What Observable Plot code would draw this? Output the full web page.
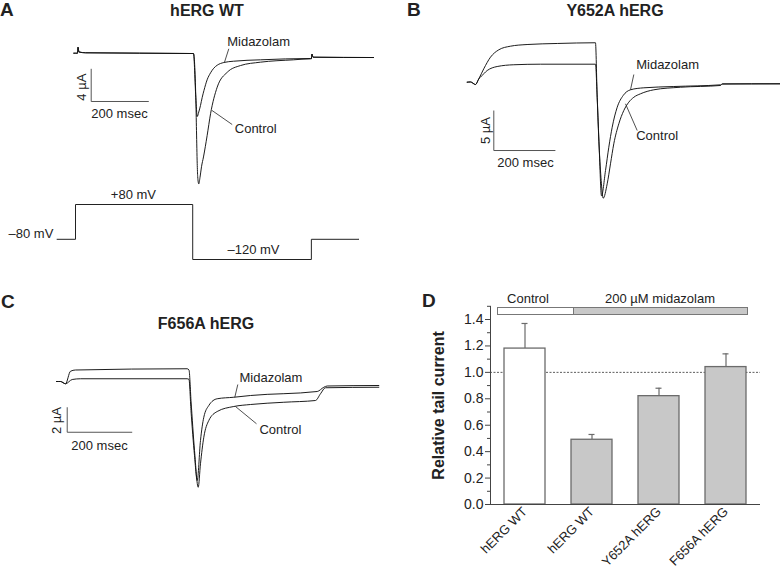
<!DOCTYPE html>
<html><head><meta charset="utf-8">
<script src="https://cdn.jsdelivr.net/npm/d3@7"></script>
<script src="https://cdn.jsdelivr.net/npm/@observablehq/plot@0.6"></script>
<style>
html,body{margin:0;padding:0;background:#fff;}
#fig{position:relative;width:780px;height:572px;overflow:hidden;font-family:"Liberation Sans",Arial,sans-serif;color:#222;background:#fff;}
#fig .panel{position:absolute;}
#fig .lbl{position:absolute;white-space:nowrap;}
#fig g[aria-label="y-axis label"] text{font-weight:bold;font-size:16px;}
</style></head><body><div id="fig"></div>
<script>
// ---------------- DATA (time in ms, current in µA) ----------------
// Panel A — hERG WT
const wtControl = [[-6,0],[7,0],[8.7,0.73],[12,0.15],[35,0.05],[409.7,-0.04],[417.7,-5.39],[420.1,-9.49],[422.6,-13.5],[424.3,-15.1],[428,-16],[432.3,-15.2],[437.5,-13.9],[444.4,-12.7],[457,-10.1],[469,-7.4],[492,-4.16],[527,-2.33],[573,-1.51],[642,-1.10],[757,-0.81],[816,-0.69],[819,-0.69],[821,-0.1],[825,-0.49],[1035,-0.53]];
const wtMidazolam = [[-6,0],[7,0],[8.7,0.73],[12,0.15],[35,0.05],[409.7,-0.04],[417.7,-5.39],[422.6,-7.75],[428,-7.2],[434,-6.4],[440,-5.4],[446,-4.57],[457,-3.26],[469,-2.4],[480,-1.84],[492,-1.47],[515,-1.14],[549,-0.98],[642,-0.81],[816,-0.65],[819,-0.65],[821,-0.1],[825,-0.49],[1035,-0.53]];
// Voltage protocol (ms, mV)
const protocolTime = [-64, 0, 407, 819, 984];
const protocolVoltage = [-80, 80, -120, -80, -80];
// Panel B — Y652A hERG
const y652Control = [[-20.5,0],[-9.7,0.03],[6.5,-0.29],[17.2,0.42],[33.4,1.68],[55.2,3.13],[82.1,4.05],[120,4.5],[174,4.71],[272,4.84],[396,4.93],[401.6,-1.88],[408,-8.1],[414.6,-12.3],[421.1,-14.5],[434.1,-12.7],[444.8,-10.2],[455.5,-7.7],[471.8,-5.2],[488,-3.54],[504.2,-2.5],[520.5,-1.88],[542.2,-1.45],[585.4,-0.95],[672,-0.63],[802,-0.41],[808.4,-0.22],[996.8,-0.2]];
const y652Midazolam = [[-20.5,0],[-9.7,0.03],[6.5,-0.29],[17.2,0.42],[22.7,0.63],[44.5,1.46],[76.9,1.96],[130.8,2.18],[217.5,2.25],[396,2.25],[401.6,-1.88],[408,-8.1],[415.6,-14.2],[428.6,-11.04],[439.3,-8.13],[450.3,-5.63],[466.6,-3.13],[486,-1.66],[509.7,-0.95],[552.9,-0.7],[650.3,-0.54],[802,-0.33],[808.4,-0.22],[996.8,-0.2]];
// Panel C — F656A hERG
const f656Control = [[-21.5,-0.04],[-9.2,-0.04],[6.2,-0.22],[21.5,0.78],[36.9,0.88],[380.6,0.98],[386.2,0.88],[392.3,-1.56],[403.1,-5.56],[414.5,-8.5],[421.5,-6.62],[431.7,-4.5],[447.1,-3.16],[472.9,-2.44],[524,-2.04],[575.4,-1.88],[677.8,-1.7],[775.4,-1.56],[790.8,-1.02],[806.2,-0.54],[970.2,-0.5]];
const f656Midazolam = [[-21.5,-0.04],[-9.2,-0.04],[6.2,-0.22],[26.8,0.12],[52.3,0.18],[380.6,0.18],[386.2,0.12],[392.3,-2.36],[403.1,-5.96],[411.4,-7.96],[421.5,-4.76],[431.7,-2.9],[447.1,-1.96],[472.9,-1.42],[524,-1.3],[575.4,-1.16],[780.6,-0.84],[801,-0.5],[811.4,-0.4],[970.2,-0.36]];
// Annotations (in data units)
const annotA = [{t:526.7,I:1.35,text:"Midazolam"},{t:553,I:-9.25,text:"Control"}];
const leadersA = [{t1:532.3,I1:0.54,t2:517.4,I2:-1.10},{t1:544,I1:-8.73,t2:474,I2:-7.01}];
const annotB = [{t:528.2,I:2.18,text:"Midazolam"},{t:528.2,I:-6.75,text:"Control"}];
const leadersB = [{t1:520.5,I1:0.96,t2:509.7,I2:-0.95},{t1:531.5,I1:-6.04,t2:493.5,I2:-2.7}];
const annotC = [{t:541.5,I:0.22,text:"Midazolam"},{t:603,I:-3.88,text:"Control"}];
const leadersC = [{t1:536.3,I1:-0.28,t2:527.1,I2:-1.3},{t1:593.8,I1:-3.42,t2:529.2,I2:-2.04}];
// Scale bars: anchor corner (t, I), lengths in ms and µA
const scaleBarA = {t:54.5, I:-5.91, ms:200, uA:4, tLabel:23.3, ILabel:-4.16, tTime:152.8, ITime:-7.38};
const scaleBarB = {t:65.9, I:-8.54, ms:200, uA:5, tLabel:39, ILabel:-6.04, tTime:168.8, ITime:-10.04};
const scaleBarC = {t:11.4, I:-4.1, ms:200, uA:2, tLabel:-19.4, ILabel:-3.16, tTime:110.8, ITime:-5.16};
// Protocol labels
const protocolLabels = [{t:201,v:80,dy:-10,text:"+80 mV",anchor:"middle"},{t:-77,v:-80,dy:-5,text:"\u201380 mV",anchor:"end"},{t:618,v:-120,dy:-10,text:"\u2013120 mV",anchor:"middle"}];
// Panel D
const dGroups = ["WT control","WT midazolam","Y652A midazolam","F656A midazolam"];
const dTickLabels = ["hERG WT","hERG WT","Y652A hERG","F656A hERG"];
const dCondition = ["Control","200 \u00b5M midazolam","200 \u00b5M midazolam","200 \u00b5M midazolam"];
const dValue = [1.18,0.49,0.82,1.04];
const dError = [0.19,0.04,0.06,0.10];
const yMajorTicks = [0,0.2,0.4,0.6,0.8,1.0,1.2,1.4];
const yMinorTicks = [0.1,0.3,0.5,0.7,0.9,1.1,1.3,1.5];
const referenceLevel = [1.0];

// ---------------- LAYOUT ----------------
const FONT = '"Liberation Sans", Arial, sans-serif';
const fig = document.getElementById("fig");
function place(node, left, top) {
  node.classList.add("panel"); node.style.left = left + "px"; node.style.top = top + "px"; fig.appendChild(node);
}
function addText(txt, x, baseline, size, weight, anchor) {
  const d = document.createElement("div");
  d.className = "lbl"; d.textContent = txt;
  d.style.fontSize = size + "px"; d.style.lineHeight = size + "px"; d.style.fontWeight = weight;
  d.style.top = (baseline - 0.8465 * size) + "px"; d.style.left = x + "px";
  if (anchor === "middle") d.style.transform = "translateX(-50%)";
  fig.appendChild(d);
}
const toObj = arr => arr.map(([t, I]) => ({t, I}));
const TRACE = {stroke: "#111", strokeWidth: 0.95, curve: "monotone-x"};

function tracePlot(box, origin, px, control, midazolam, annot, leaders, bar) {
  const xd = [(box.left - origin[0]) / px[0], (box.left + box.w - origin[0]) / px[0]];
  const yd = [(origin[1] - (box.top + box.h)) / px[1], (origin[1] - box.top) / px[1]];
  const p = Plot.plot({
    width: box.w, height: box.h, margin: 0,
    style: {background: "transparent", fontFamily: FONT, overflow: "visible", color: "#222"},
    x: {domain: xd, axis: null}, y: {domain: yd, axis: null},
    marks: [
      Plot.line(toObj(control), {x: "t", y: "I", ...TRACE}),
      Plot.line(toObj(midazolam), {x: "t", y: "I", ...TRACE}),
      Plot.link(leaders, {x1: "t1", y1: "I1", x2: "t2", y2: "I2", stroke: "#222", strokeWidth: 0.8}),
      Plot.text(annot, {x: "t", y: "I", text: "text", textAnchor: "start", fontSize: 13, fill: "#222"}),
      Plot.link([bar], {x1: "t", y1: "I", x2: "t", y2: d => d.I + d.uA, stroke: "#555", strokeWidth: 1}),
      Plot.link([bar], {x1: "t", y1: "I", x2: d => d.t + d.ms, y2: "I", stroke: "#555", strokeWidth: 1}),
      Plot.text([bar], {x: "tLabel", y: "ILabel", text: d => d.uA + " \u00b5A", rotate: -90, fontSize: 13, fill: "#222"}),
      Plot.text([bar], {x: "tTime", y: "ITime", text: d => d.ms + " msec", fontSize: 13, fill: "#222"})
    ]
  });
  place(p, box.left, box.top);
}

// Panel A traces
tracePlot({left:0, top:20, w:390, h:180}, [75, 52.7], [0.288, 8.17], wtControl, wtMidazolam, annotA, leadersA, scaleBarA);
// Panel A voltage protocol (schematic: levels drawn at fixed heights above/below the -80 mV holding level)
{
  const box = {left:0, top:185, w:390, h:90};
  const x0 = 75, kx = 0.288, holdingY = 238.8;
  const levelHeight = d3.scaleLinear([-120, -80, 80], [-20.2, 0, 34.8]);
  const proto = protocolTime.map((t, i) => ({t, v: protocolVoltage[i]}));
  const p = Plot.plot({
    width: box.w, height: box.h, margin: 0,
    style: {background: "transparent", fontFamily: FONT, overflow: "visible", color: "#222"},
    x: {domain: [(box.left - x0) / kx, (box.left + box.w - x0) / kx], axis: null},
    y: {transform: levelHeight, domain: [holdingY - box.top - box.h, holdingY - box.top], axis: null},
    marks: [
      Plot.line(proto, {x: "t", y: "v", curve: "step-after", stroke: "#222", strokeWidth: 1}),
      ...protocolLabels.map(l => Plot.text([l], {x: "t", y: "v", dy: l.dy, text: "text", textAnchor: l.anchor, fontSize: 13, fill: "#222"}))
    ]
  });
  place(p, box.left, box.top);
}
// Panel B traces
tracePlot({left:390, top:20, w:390, h:200}, [473, 81.7], [0.308, 8], y652Control, y652Midazolam, annotB, leadersB, scaleBarB);
// Panel C traces
tracePlot({left:0, top:330, w:390, h:180}, [63, 380.5], [0.325, 12.5], f656Control, f656Midazolam, annotC, leadersC, scaleBarC);

// Panel D bar chart
{
  const dData = dGroups.map((g, i) => ({group: g, value: dValue[i], error: dError[i], condition: dCondition[i]}));
  const tickMap = new Map(dGroups.map((g, i) => [g, dTickLabels[i]]));
  const p = Plot.plot({
    width: 390, height: 287, marginLeft: 100, marginRight: 20, marginTop: 20.8, marginBottom: 68,
    style: {background: "transparent", fontFamily: FONT, fontSize: "14px", color: "#222", overflow: "visible"},
    x: {domain: dGroups, paddingInner: 0.394, paddingOuter: 0.192},
    y: {domain: [0, 1.5]},
    color: {domain: ["Control", "200 \u00b5M midazolam"], range: ["#ffffff", "#c8c8c8"]},
    marks: [
      Plot.ruleY(referenceLevel, {stroke: "#333", strokeWidth: 0.8, strokeDasharray: "2,1.5"}),
      Plot.ruleX(dData, {x: "group", y1: "value", y2: d => d.value + d.error, stroke: "#6b6b6b", strokeWidth: 1.2}),
      Plot.tickY(dData, {x: "group", y: d => d.value + d.error, stroke: "#6b6b6b", strokeWidth: 1.2, insetLeft: 17.5, insetRight: 17.5}),
      Plot.barY(dData, {x: "group", y: "value", fill: "condition", stroke: "#6b6b6b", strokeWidth: 1.3}),
      Plot.ruleY([0], {stroke: "#444"}),
      Plot.frame({anchor: "left", stroke: "#444"}),
      Plot.axisY(yMinorTicks, {tickSize: 3, tickFormat: () => "", label: null, stroke: "#444"}),
      Plot.axisY(yMajorTicks, {tickSize: 5, tickPadding: 2, tickFormat: d3.format(".1f"), fontSize: 14, label: "Relative tail current", labelAnchor: "center", labelArrow: "none", labelOffset: 58, stroke: "#444"}),
      Plot.axisX({tickSize: 0, tickPadding: 5, tickRotate: -45, tickFormat: d => tickMap.get(d), fontSize: 13, label: null})
    ]
  });
  place(p, 390, 285);
  // condition legend strip
  const strip = [["#ffffff", 497, 77], ["#c8c8c8", 573, 175]];
  strip.forEach(([c, l, w]) => {
    const d = document.createElement("div");
    Object.assign(d.style, {position: "absolute", left: l + "px", top: "307px", width: w + "px", height: "8px", background: c, border: "1px solid #777", boxSizing: "border-box"});
    fig.appendChild(d);
  });
  addText("Control", 528, 303.5, 13, "normal", "middle");
  addText("200 \u00b5M midazolam", 660, 303.5, 13, "normal", "middle");
}

// Titles and panel letters
addText("A", 0, 16.2, 19, "bold");
addText("hERG WT", 207, 16.7, 16, "bold", "middle");
addText("B", 407, 16.2, 19, "bold");
addText("Y652A hERG", 615, 16.7, 16, "bold", "middle");
addText("C", 1, 308.3, 19, "bold");
addText("F656A hERG", 206, 330, 16, "bold", "middle");
addText("D", 422, 306.7, 19, "bold");
</script></body></html>
